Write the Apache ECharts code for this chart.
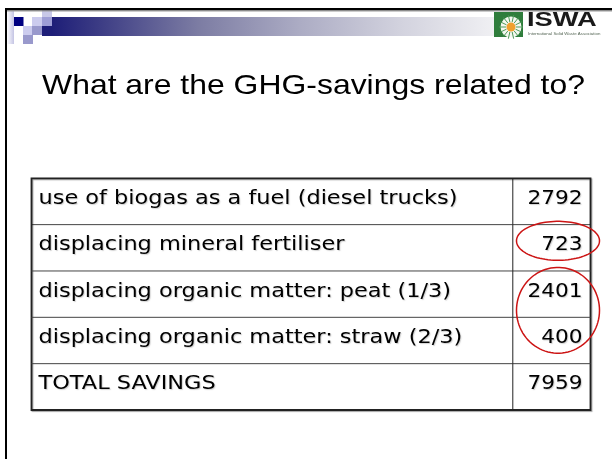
<!DOCTYPE html>
<html>
<head>
<meta charset="utf-8">
<script src="https://cdn.jsdelivr.net/npm/echarts/dist/echarts.min.js"></script>
<style>
  html, body { margin: 0; padding: 0; background: #fff; }
  #chart { width: 612px; height: 459px; }
</style>
</head>
<body>
<div id="chart"></div>
<script>
// table content
const rowLabels = [
  'use of biogas as a fuel (diesel trucks)',
  'displacing mineral fertiliser',
  'displacing organic matter: peat (1/3)',
  'displacing organic matter: straw (2/3)',
  'TOTAL SAVINGS'
]
const rowValues = [2792, 723, 2401, 400, 7959]
// rows circled in red: [first row, last row]
const circledGroups = [[1, 1], [2, 3]]

const title = 'What are the GHG-savings related to?'
const COL_SPLIT = 0.861 // where the value column starts (fraction of table width)

const chart = echarts.init(document.getElementById('chart'))

const cellFont = { fontFamily: 'DejaVu Sans', fontSize: 19, fill: '#000',
  textShadowColor: 'rgba(0,0,0,0.18)', textShadowOffsetX: 1, textShadowOffsetY: 1, textShadowBlur: 1 }

function renderRow(params, api) {
  const v = api.value(0)
  const i = api.value(1)
  const [xL, yC] = api.coord([0, i])
  const xM = api.coord([COL_SPLIT, i])[0]
  const xR = api.coord([1, i])[0]
  const h = api.size([0, 1])[1]
  const top = yC - h / 2
  const children = []
  if (i < rowLabels.length - 1) {
    children.push({ type: 'line', shape: { x1: xL, y1: top + h, x2: xR, y2: top + h },
      style: { stroke: '#444', lineWidth: 1 } })
  }
  children.push({ type: 'line', shape: { x1: xM, y1: top, x2: xM, y2: top + h },
    style: { stroke: '#222', lineWidth: 1 } })
  if (params.dataIndex === 0) {
    const cs = params.coordSys
    children.push({ type: 'rect', shape: { x: cs.x, y: cs.y, width: cs.width, height: cs.height },
      style: { fill: 'none', stroke: '#222', lineWidth: 1.8, shadowColor: 'rgba(0,0,0,0.35)', shadowOffsetX: 1, shadowOffsetY: 1, shadowBlur: 1 } })
  }
  children.push({ type: 'text', x: xL + 7, y: yC - 2.5, scaleX: 1.18,
    style: Object.assign({ text: rowLabels[i], align: 'left', verticalAlign: 'middle' }, cellFont) })
  children.push({ type: 'text', x: xR - 8, y: yC - 2.5, scaleX: 1.14,
    style: Object.assign({ text: String(v), align: 'right', verticalAlign: 'middle' }, cellFont) })
  return { type: 'group', children }
}

function renderCircle(params, api) {
  const first = api.value(0)
  const last = api.value(1)
  const h = api.size([0, 1])[1]
  const y1 = api.coord([0, first])[1] - h / 2
  const y2 = api.coord([0, last])[1] + h / 2
  const xR = api.coord([1, first])[0]
  const cx = xR - 32.5
  const cy = (y1 + y2) / 2 - 7
  const rx = 41.5
  const ry = 0.506 * (y2 - y1) - 4
  const pts = []
  for (let k = 0; k < 90; k++) {
    const a = k / 90 * Math.PI * 2
    pts.push([cx + rx * Math.cos(a), cy + ry * Math.sin(a)])
  }
  return { type: 'polygon', shape: { points: pts },
    style: { fill: 'none', stroke: '#cc1414', lineWidth: 1.5 } }
}

// slide decoration
const deco = []
const sq = (x, y, w, h, fill) => deco.push({ type: 'rect', shape: { x, y, width: w, height: h }, style: { fill }, silent: true })
sq(7, 11, 7, 33, new echarts.graphic.LinearGradient(0, 0, 1, 0, [{ offset: 0, color: '#ffffff' }, { offset: 1, color: '#c4c4e4' }]))
sq(42, 8, 10, 9, '#c8c8e8')
sq(14, 17, 9.5, 9, '#000080')
sq(32, 17, 10, 9, '#ccccee')
sq(42, 17, 10, 9, '#9e9ed6')
sq(23, 26, 9, 9, '#ccccee')
sq(32, 26, 10, 9, '#9999cc')
sq(23, 35, 10, 9, '#9999cc')
sq(42, 26, 10, 10, '#1e1e78')
sq(52, 17, 442, 19, new echarts.graphic.LinearGradient(0, 0, 1, 0, [
  { offset: 0, color: '#1e1e78' },
  { offset: 0.11, color: '#3d3d85' },
  { offset: 0.33, color: '#7c7ca3' },
  { offset: 0.561, color: '#acacc4' },
  { offset: 0.787, color: '#d2d2de' },
  { offset: 1, color: '#f0f0f3' }
]))
// frame lines
sq(5, 8, 607, 2.5, '#000')
sq(5, 10.5, 607, 1, '#999')
sq(5, 8, 2, 451, '#000')
// ISWA logo
sq(494, 12, 29, 25, '#2f7d3c')
deco.push({ type: 'circle', shape: { cx: 511, cy: 27, r: 10.5 }, style: { fill: '#f4f8f0' }, silent: true })
for (let k = 0; k < 14; k++) {
  const a = k / 14 * Math.PI * 2
  deco.push({ type: 'line', shape: { x1: 511 + 5 * Math.cos(a), y1: 27 + 5 * Math.sin(a), x2: 511 + 12 * Math.cos(a), y2: 27 + 12 * Math.sin(a) },
    style: { stroke: '#4f9a5a', lineWidth: 1 }, silent: true })
}
deco.push({ type: 'circle', shape: { cx: 511, cy: 27, r: 4.5 }, style: { fill: '#f0a030' }, silent: true })
deco.push({ type: 'text', x: 527, y: 20, scaleX: 1.3, silent: true,
  style: { text: 'ISWA', fontFamily: 'Liberation Sans', fontWeight: 'bold', fontSize: 21, fill: '#1a1a1a', align: 'left', verticalAlign: 'middle' } })
deco.push({ type: 'text', x: 528, y: 34, silent: true,
  style: { text: 'International Solid Waste Association', fontFamily: 'Liberation Sans', fontSize: 4.4, fill: '#556655', align: 'left', verticalAlign: 'middle' } })
// title
deco.push({ type: 'text', x: 42, y: 86, scaleX: 1.14, silent: true,
  style: { text: title, fontFamily: 'Liberation Sans', fontSize: 28, fill: '#000', align: 'left', verticalAlign: 'middle' } })

chart.setOption({
  animation: false,
  backgroundColor: '#fff',
  graphic: { elements: deco },
  grid: { left: 31.5, top: 178.3, width: 559, height: 231.7 },
  xAxis: { type: 'value', min: 0, max: 1, show: false },
  yAxis: { type: 'category', data: rowLabels, inverse: true, show: false },
  series: [
    { type: 'custom', renderItem: renderRow, data: rowValues.map((v, i) => [v, i]), silent: true },
    { type: 'custom', renderItem: renderCircle, data: circledGroups, silent: true, z: 5 }
  ]
})
</script>
</body>
</html>
